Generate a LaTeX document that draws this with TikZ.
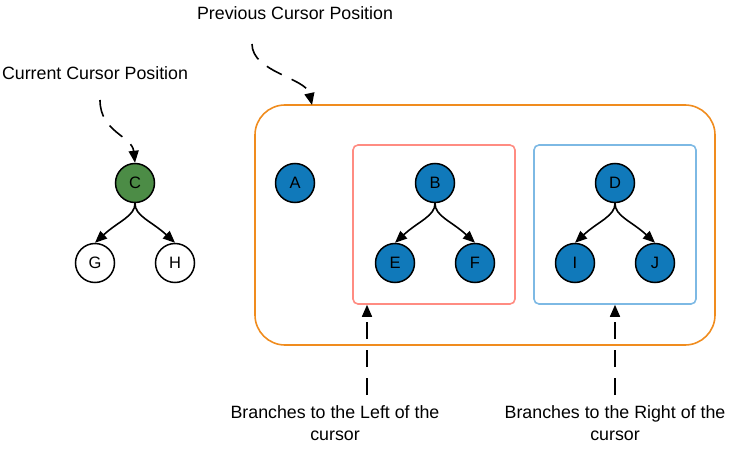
\documentclass[tikz,border=0pt]{standalone}
\usepackage{fontspec}
\setmainfont{Liberation Sans}
\usetikzlibrary{arrows.meta}
\definecolor{curgreen}{RGB}{76,140,70}
\definecolor{nodeblue}{RGB}{16,121,186}
\definecolor{outerorange}{RGB}{240,140,30}
\definecolor{leftred}{RGB}{255,140,130}
\definecolor{rightblue}{RGB}{125,185,228}
\tikzset{
  treenode/.style={circle, draw=black, line width=1.5pt, minimum size=39pt, inner sep=0pt, font=\fontsize{16.5}{19}\selectfont},
  bluenode/.style={treenode, fill=nodeblue},
  tip/.style={-{Triangle[length=12pt,width=10pt]}},
  edge/.style={tip, line width=1.6pt, black},
  dashedge/.style={tip, line width=1.6pt, black, dash pattern=on 17pt off 11pt},
  lbl/.style={font=\fontsize{17.8}{22}\selectfont, align=center, inner sep=0pt},
  groupbox/.style={draw, line width=1.6pt, fill=none}
}
\begin{document}
\begin{tikzpicture}[x=1pt,y=-1pt]
\useasboundingbox (0,0) rectangle (738,454);
% group boxes
\node[groupbox, draw=outerorange, rounded corners=30pt, minimum width=460pt, minimum height=240pt] (outer) at (485,225) {};
\node[groupbox, draw=leftred, rounded corners=5pt, minimum width=162pt, minimum height=159pt] (leftbox) at (434,224.5) {};
\node[groupbox, draw=rightblue, rounded corners=5pt, minimum width=162pt, minimum height=159pt] (rightbox) at (615,224.5) {};
% current subtree
\node[treenode, fill=curgreen] (C) at (135,183) {C};
\node[treenode, fill=white] (G) at (95,263) {G};
\node[treenode, fill=white] (H) at (175,263) {H};
% other nodes
\node[bluenode] (A) at (295,183) {A};
\node[bluenode] (B) at (435,183) {B};
\node[bluenode] (E) at (395,263) {E};
\node[bluenode] (F) at (475,263) {F};
\node[bluenode] (D) at (615,183) {D};
\node[bluenode] (I) at (575,263) {I};
\node[bluenode] (J) at (655,263) {J};
% tree edges
\foreach \p/\c/\s in {C/G/-1, C/H/1, B/E/-1, B/F/1, D/I/-1, D/J/1}{
  \draw[edge] (\p.south) .. controls +(0,13) and +(-\s*24,-22) .. (\c.north);
}
% labels
\node[lbl] (curlbl) at (95,73) {Current Cursor Position};
\node[lbl] (prevlbl) at (295,13) {Previous Cursor Position};
\node[lbl] (leftlbl) at (335,423) {Branches to the Left of the\\cursor};
\node[lbl] (rightlbl) at (615,423) {Branches to the Right of the\\cursor};
% anchors of dashed connectors
\coordinate (curstart) at (100,100);
\coordinate (prevstart) at (252,44);
\coordinate (prevend) at (312,105);
\coordinate (leftstart) at (367,395);
\coordinate (rightstart) at (615,395);
\draw[dashedge] (curstart) .. controls (100,132) and (132,136) .. (C.north);
\draw[dashedge] (prevstart) .. controls (252,72) and (306,78) .. (prevend);
\draw[dashedge] (leftstart) -- (leftstart |- leftbox.south);
\draw[dashedge] (rightstart) -- (rightbox.south);
\end{tikzpicture}
\end{document}
